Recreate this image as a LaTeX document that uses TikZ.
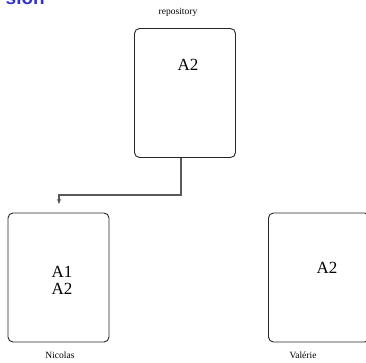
\documentclass[tikz,border=0pt]{standalone}
\usepackage{fontspec}
\setmainfont{Liberation Serif}
\newfontfamily\titlefont{Liberation Sans}
\usetikzlibrary{arrows.meta}
\definecolor{titleblue}{RGB}{51,51,204}

\def\bw{101pt}
\def\bh{129pt}
\def\rad{5pt}

\tikzset{
  site/.style={draw=black!85,line width=0.9pt,rounded corners=\rad,
    minimum width=\bw,minimum height=\bh,inner sep=0pt},
  who/.style={font=\fontsize{9.5}{11}\selectfont,inner sep=0pt},
  files/.style={font=\fontsize{17}{17}\selectfont,align=center,inner sep=0pt},
  link/.style={draw=black!65,line width=1.1pt,-{Stealth[length=5pt,width=4pt]}}
}

\begin{document}
\begin{tikzpicture}[x=1pt,y=-1pt]
 \useasboundingbox (0,0) rectangle (366,362);

 % titre coupe en haut
 \node[anchor=base east,inner sep=0pt,text=titleblue,
   font=\titlefont\bfseries\fontsize{19}{19}\selectfont] (title) at (45,4) {sion};

 % depot
 \node[site] (repo) at (185,93) {};
 \node[who] (repolab) at (178,12) {repository};
 \node[files] (repofiles) at (188,65) {A2};

 % Nicolas
 \node[site] (nico) at (58.5,277.5) {};
 \node[who] (nicolab) at (60,355) {Nicolas};
 \node[files] (nicofiles) at (62,280) {A1\\A2};

 % Valerie
 \node[site] (vale) at (319,277.5) {};
 \node[who] (valelab) at (303,355) {Val\'erie};
 \node[files] (valefiles) at (327,268) {A2};

 \coordinate (tip) at (59,204);
 \draw[link] ([xshift=-4pt]repo.south) -- ++(0,37) -| (tip);
\end{tikzpicture}
\end{document}
